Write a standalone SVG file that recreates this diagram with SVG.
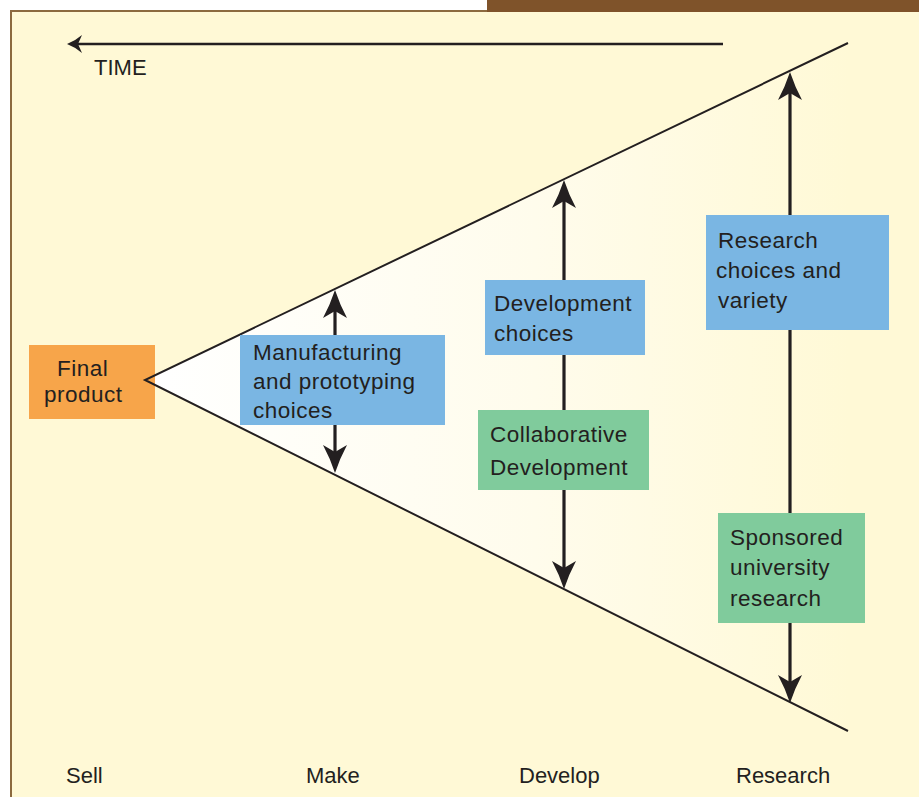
<svg xmlns="http://www.w3.org/2000/svg" width="919" height="797" viewBox="0 0 919 797">
  <style>
    .lbl { font-family: "Liberation Sans", Arial, sans-serif; font-size: 22.5px; fill: #231F20; letter-spacing: 0.5px; }
    .axis { font-family: "Liberation Sans", Arial, sans-serif; font-size: 22px; fill: #231F20; }
    .edge { stroke: #231F20; fill: none; }
    .blue { fill: #7AB6E3; }
    .green { fill: #80CB9C; }
    .orange { fill: #F7A54A; }
  </style>
  <defs>
    <linearGradient id="funnelFill" gradientUnits="userSpaceOnUse" x1="150" y1="0" x2="850" y2="0">
      <stop offset="0" stop-color="#FFFFFF"/>
      <stop offset="0.55" stop-color="#FFFCEC"/>
      <stop offset="1" stop-color="#FFF9D6"/>
    </linearGradient>
    <marker id="head" viewBox="0 0 28 24" markerWidth="28" markerHeight="24" refX="7" refY="12" orient="auto-start-reverse" markerUnits="userSpaceOnUse">
      <path d="M28,12 Q13,7 0,0 L7,12 L0,24 Q13,17 28,12 Z" fill="#231F20"/>
    </marker>
    <marker id="timeHead" viewBox="0 0 16 18" markerWidth="16" markerHeight="18" refX="5" refY="9" orient="auto" markerUnits="userSpaceOnUse">
      <path d="M16,9 Q8,6 1,0 L5,9 L1,18 Q8,12 16,9 Z" fill="#231F20"/>
    </marker>
  </defs>

  <!-- page frame -->
  <rect x="0" y="0" width="919" height="797" fill="#FFFFFF"/>
  <rect x="11" y="11" width="908" height="786" fill="#FFF9D6"/>
  <path d="M11,797 V11 H487" stroke="#8C6A3F" stroke-width="2" fill="none"/>
  <rect x="487" y="0" width="432" height="12" fill="#7F532A"/>

  <!-- funnel -->
  <polygon points="145,380 848,43 848,731" fill="url(#funnelFill)"/>

  <g id="final-product">
    <rect class="orange" x="29" y="345" width="126" height="74"/>
    <text class="lbl" x="57" y="376">Final</text>
    <text class="lbl" x="44" y="402">product</text>
  </g>

  <g id="connectors">
    <path class="edge" d="M848,43 L145,380 L848,731" stroke-width="2" stroke-miterlimit="20"/>
    <path class="edge" d="M723,44 H78" stroke-width="2.5" marker-end="url(#timeHead)"/>
    <path class="edge" d="M335,311 V452" stroke-width="3.2" marker-start="url(#head)" marker-end="url(#head)"/>
    <path class="edge" d="M564,201 V568" stroke-width="3.2" marker-start="url(#head)" marker-end="url(#head)"/>
    <path class="edge" d="M790,93 V682" stroke-width="3.2" marker-start="url(#head)" marker-end="url(#head)"/>
  </g>

  <text class="axis" x="94" y="75">TIME</text>

  <g id="manufacturing">
    <rect class="blue" x="240" y="335" width="205" height="90"/>
    <text class="lbl" x="253" y="360">Manufacturing</text>
    <text class="lbl" x="253" y="389">and prototyping</text>
    <text class="lbl" x="253" y="418">choices</text>
  </g>

  <g id="development-choices">
    <rect class="blue" x="485" y="280" width="160" height="75"/>
    <text class="lbl" x="494" y="311">Development</text>
    <text class="lbl" x="494" y="341">choices</text>
  </g>

  <g id="collaborative-development">
    <rect class="green" x="478" y="410" width="171" height="80"/>
    <text class="lbl" x="490" y="442">Collaborative</text>
    <text class="lbl" x="490" y="475">Development</text>
  </g>

  <g id="research-choices">
    <rect class="blue" x="706" y="215" width="183" height="115"/>
    <text class="lbl" x="718" y="248">Research</text>
    <text class="lbl" x="716" y="278">choices and</text>
    <text class="lbl" x="718" y="308">variety</text>
  </g>

  <g id="sponsored-research">
    <rect class="green" x="718" y="513" width="147" height="110"/>
    <text class="lbl" x="730" y="545">Sponsored</text>
    <text class="lbl" x="730" y="575">university</text>
    <text class="lbl" x="730" y="606">research</text>
  </g>

  <!-- stage labels -->
  <text class="axis" x="66" y="783">Sell</text>
  <text class="axis" x="306" y="783">Make</text>
  <text class="axis" x="519" y="783">Develop</text>
  <text class="axis" x="736" y="783">Research</text>
</svg>
